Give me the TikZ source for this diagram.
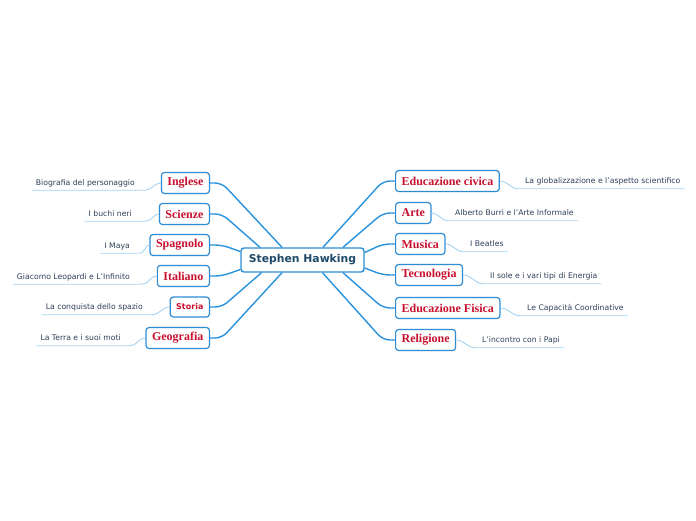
\documentclass[tikz,border=0pt]{standalone}
\usepackage{fontspec}
\setmainfont{DejaVu Sans}
\newfontfamily\subjfont{Liberation Serif}
\usetikzlibrary{calc}
\definecolor{cline}{HTML}{2A93DE}
\definecolor{cbox}{HTML}{2D8CD4}
\definecolor{cred}{HTML}{C8102E}
\definecolor{ctext}{HTML}{1E4A6A}
\definecolor{cleaf}{HTML}{2E4058}
\definecolor{cunder}{HTML}{A6D3F2}
\tikzset{
 box/.style={draw=cbox, line width=1.2pt, rounded corners=3pt, fill=white, minimum height=21pt, inner xsep=6pt, inner ysep=0pt},
 subject/.style={box, font=\subjfont\bfseries\fontsize{12}{13}\selectfont, text=cred},
 sanssubject/.style={box, font=\bfseries\fontsize{8}{9}\selectfont, text=cred},
 central/.style={box, line width=1.4pt, minimum width=123pt, minimum height=24pt, font=\bfseries\fontsize{10.8}{12}\selectfont, text=ctext},
 leaf/.style={font=\fontsize{7.7}{9}\selectfont, text=cleaf, inner sep=0pt, text height=5.6pt, text depth=1.6pt},
 conn/.style={draw=cline, line width=1.4pt, rounded corners=7pt},
 under/.style={draw=cunder, line width=0.9pt},
}
\begin{document}
\begin{tikzpicture}[x=1pt,y=-1pt]
\fill[white] (0,0) rectangle (696,520);
\useasboundingbox (0,0) rectangle (696,520);

% central
\node[central] (c) at (302.5,260) {Stephen Hawking};

% left subjects
\node[subject, anchor=east] (ing) at (210,183) {Inglese};
\node[subject, anchor=east] (sci) at (210,214) {Scienze};
\node[subject, anchor=east] (spa) at (210,245) {Spagnolo};
\node[subject, anchor=east] (ita) at (210,276) {Italiano};
\node[sanssubject, anchor=east, minimum height=20pt] (sto) at (210,307) {Storia};
\node[subject, anchor=east] (geo) at (210,338) {Geografia};

% right subjects
\node[subject, anchor=west] (civ) at (395,181) {Educazione civica};
\node[subject, anchor=west] (art) at (395,213) {Arte};
\node[subject, anchor=west] (mus) at (395,244) {Musica};
\node[subject, anchor=west] (tec) at (395,275) {Tecnologia};
\node[subject, anchor=west] (fis) at (395,308) {Educazione Fisica};
\node[subject, anchor=west] (rel) at (395,340) {Religione};

% left leaves
\node[leaf, anchor=east] (lA) at (135,183) {Biografia del personaggio};
\node[leaf, anchor=east] (lB) at (132,214) {I buchi neri};
\node[leaf, anchor=east] (lC) at (130,246) {I Maya};
\node[leaf, anchor=east] (lD) at (130,277) {Giacomo Leopardi e L'Infinito};
\node[leaf, anchor=east] (lE) at (143,307.5) {La conquista dello spazio};
\node[leaf, anchor=east] (lF) at (121,338.5) {La Terra e i suoi moti};

% right leaves
\node[leaf, anchor=west] (rA) at (525,181.5) {La globalizzazione e l'aspetto scientifico};
\node[leaf, anchor=west] (rB) at (455,213.5) {Alberto Burri e l'Arte Informale};
\node[leaf, anchor=west] (rC) at (470,244.5) {I Beatles};
\node[leaf, anchor=west] (rD) at (490,276.5) {Il sole e i vari tipi di Energia};
\node[leaf, anchor=west] (rE) at (527,308.5) {Le Capacità Coordinative};
\node[leaf, anchor=west] (rF) at (482,340.5) {L'incontro con i Papi};

% central connectors, left
\draw[conn] ($(c.north)+(-20.5,0)$) -- ($(ing.east)+(12,0)$) -- (ing.east);
\draw[conn] ($(c.north)+(-42.5,0)$) -- ($(sci.east)+(12,0)$) -- (sci.east);
\draw[conn] ($(c.west)+(0,-8.5)$) -- ($(spa.east)+(12,0)$) -- (spa.east);
\draw[conn] ($(c.west)+(0,9.5)$) -- ($(ita.east)+(12,0)$) -- (ita.east);
\draw[conn] ($(c.south)+(-41,0)$) -- ($(sto.east)+(12,0)$) -- (sto.east);
\draw[conn] ($(c.south)+(-20.5,0)$) -- ($(geo.east)+(12,0)$) -- (geo.east);

% central connectors, right
\draw[conn] ($(c.north)+(20.5,0)$) -- ($(civ.west)+(-12,0)$) -- (civ.west);
\draw[conn] ($(c.north)+(40.5,0)$) -- ($(art.west)+(-12,0)$) -- (art.west);
\draw[conn] ($(c.east)+(0,-7.5)$) -- ($(mus.west)+(-12,0)$) -- (mus.west);
\draw[conn] ($(c.east)+(0,8)$) -- ($(tec.west)+(-12,0)$) -- (tec.west);
\draw[conn] ($(c.south)+(40.5,0)$) -- ($(fis.west)+(-12,0)$) -- (fis.west);
\draw[conn] ($(c.south)+(20,0)$) -- ($(rel.west)+(-12,0)$) -- (rel.west);

% leaf underlines, left
\draw[under] (ing.west) to[out=180,in=0] ($(lA.south east)+(10,3.4)$) -- ($(lA.south west)+(-4,3.4)$);
\draw[under] (sci.west) to[out=180,in=0] ($(lB.south east)+(14,3.4)$) -- ($(lB.south west)+(-4,3.4)$);
\draw[under] (spa.west) to[out=180,in=0] ($(lC.south east)+(10,3.4)$) -- ($(lC.south west)+(-4,3.4)$);
\draw[under] (ita.west) to[out=180,in=0] ($(lD.south east)+(12,3.4)$) -- ($(lD.south west)+(-4,3.4)$);
\draw[under] (sto.west) to[out=180,in=0] ($(lE.south east)+(9,3.4)$) -- ($(lE.south west)+(-4,3.4)$);
\draw[under] (geo.west) to[out=180,in=0] ($(lF.south east)+(9,3.4)$) -- ($(lF.south west)+(-4,3.4)$);

% leaf underlines, right
\draw[under] (civ.east) to[out=0,in=180] ($(rA.south west)+(-7,3.4)$) -- ($(rA.south east)+(4,3.4)$);
\draw[under] (art.east) to[out=0,in=180] ($(rB.south west)+(-7,3.4)$) -- ($(rB.south east)+(4,3.4)$);
\draw[under] (mus.east) to[out=0,in=180] ($(rC.south west)+(-7,3.4)$) -- ($(rC.south east)+(4,3.4)$);
\draw[under] (tec.east) to[out=0,in=180] ($(rD.south west)+(-7,3.4)$) -- ($(rD.south east)+(4,3.4)$);
\draw[under] (fis.east) to[out=0,in=180] ($(rE.south west)+(-7,3.4)$) -- ($(rE.south east)+(4,3.4)$);
\draw[under] (rel.east) to[out=0,in=180] ($(rF.south west)+(-7,3.4)$) -- ($(rF.south east)+(4,3.4)$);
\end{tikzpicture}
\end{document}
